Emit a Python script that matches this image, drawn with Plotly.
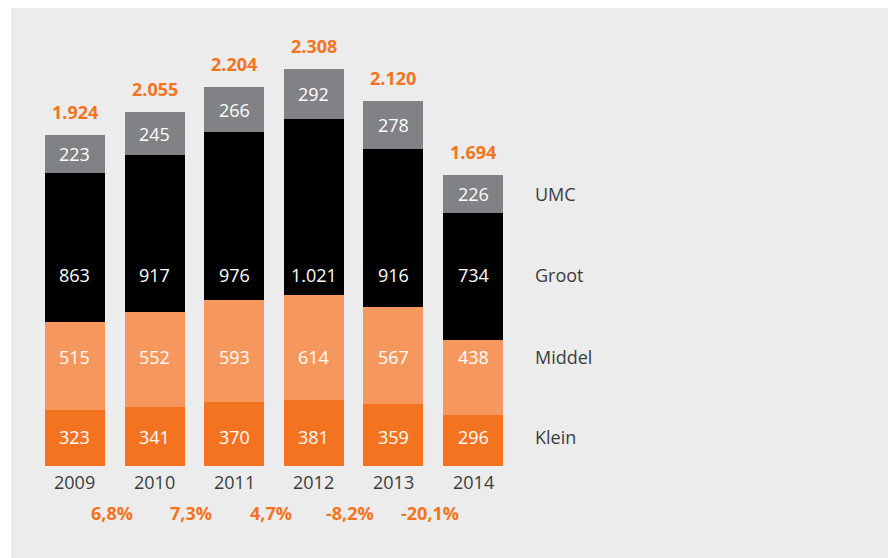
import plotly.graph_objects as go

# Jaren en aantallen per categorie
years = ["2009", "2010", "2011", "2012", "2013", "2014"]
klein = [323, 341, 370, 381, 359, 296]
middel = [515, 552, 593, 614, 567, 438]
groot = [863, 917, 976, 1021, 916, 734]
umc = [223, 245, 266, 292, 278, 226]
totals = [1924, 2055, 2204, 2308, 2120, 1694]
changes = ["6,8%", "7,3%", "4,7%", "-8,2%", "-20,1%"]

# naam, waarden, kleur, vaste labelrij (pixels vanaf boven; None = midden segment)
series = [
    ("Klein", klein, "#f37321", 437),
    ("Middel", middel, "#f6985e", 357),
    ("Groot", groot, "#000000", 275),
    ("UMC", umc, "#818285", None),
]

FONT = "Open Sans"
ORANGE = "#f37321"
SIZE = 18
H = 558


def nl(v):
    return f"{v:,}".replace(",", ".")


def row(px):
    return 1 - px / H


xs = list(range(len(years)))
fig = go.Figure()
for name, vals, color, _ in series:
    fig.add_trace(go.Bar(
        x=xs, y=vals, name=name,
        marker=dict(color=color, line=dict(width=0)),
        width=0.754,
        hoverinfo="skip",
    ))

annotations = []
# waarden in de segmenten
base = [0] * len(xs)
for name, vals, color, px in series:
    for i, v in enumerate(vals):
        if px is None:
            pos = dict(y=base[i] + v / 2, yref="y")
        else:
            pos = dict(y=row(px), yref="paper")
        annotations.append(dict(
            x=xs[i], xref="x", text=nl(v), showarrow=False,
            yanchor="middle", font=dict(family=FONT, size=SIZE, color="white"),
            **pos,
        ))
    # categorienaam naast de laatste staaf
    if px is None:
        pos = dict(y=base[-1] + vals[-1] / 2, yref="y")
    else:
        pos = dict(y=row(px), yref="paper")
    annotations.append(dict(
        x=xs[-1] + 0.38, xref="x", text=name, showarrow=False,
        xanchor="left", yanchor="middle", xshift=30,
        font=dict(family=FONT, size=SIZE, color="#3c3c3c"),
        **pos,
    ))
    base = [b + v for b, v in zip(base, vals)]

# totalen boven de staven
for i, t in enumerate(totals):
    annotations.append(dict(
        x=xs[i], y=t, xref="x", yref="y", text=f"<b>{nl(t)}</b>",
        showarrow=False, yanchor="bottom", yshift=9,
        font=dict(family=FONT, size=SIZE, color=ORANGE),
    ))
# jaartallen onder de staven
for i, yr in enumerate(years):
    annotations.append(dict(
        x=xs[i], y=0, xref="x", yref="y", text=yr,
        showarrow=False, yanchor="top", yshift=-2,
        font=dict(family=FONT, size=SIZE, color="#3c3c3c"),
    ))
# procentuele verandering tussen de jaren
for i, c in enumerate(changes):
    annotations.append(dict(
        x=xs[i] + 0.46, y=0, xref="x", yref="y", text=f"<b>{c}</b>",
        showarrow=False, yanchor="middle", yshift=-47,
        font=dict(family=FONT, size=SIZE, color=ORANGE),
    ))

fig.update_layout(
    width=891, height=H,
    barmode="stack",
    bargap=0,
    showlegend=False,
    margin=dict(l=0, r=0, t=0, b=0),
    paper_bgcolor="white",
    plot_bgcolor="rgba(0,0,0,0)",
    xaxis=dict(range=[-0.942, 10.251], visible=False, fixedrange=True),
    yaxis=dict(range=[-535, 2709], visible=False, fixedrange=True),
    annotations=annotations,
    shapes=[dict(
        type="rect", xref="paper", yref="paper",
        x0=11 / 891, x1=888 / 891, y0=0, y1=1 - 8 / H,
        fillcolor="#ececec", line=dict(width=0), layer="below",
    )],
)

fig.write_html("out.html")
